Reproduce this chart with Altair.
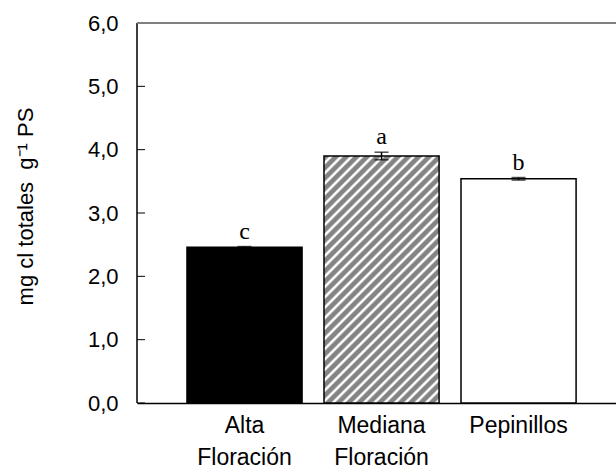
import altair as alt
import pandas as pd

categories = ["Alta\nFloración", "Mediana\nFloración", "Pepinillos"]
values = [2.46, 3.90, 3.54]
errors = [0.01, 0.06, 0.02]
letters = ["c", "a", "b"]
y_ticks = [0, 1, 2, 3, 4, 5, 6]

df = pd.DataFrame({"cat": categories, "val": values, "err": errors, "let": letters})
df["lo"] = df["val"] - df["err"]
df["hi"] = df["val"] + df["err"]
ticks_df = pd.DataFrame({"t": y_ticks})

W, H = 479, 380
YMAX = 6.0
Y_TITLE = "mg cl totales\u00a0\u00a0g⁻¹ PS"

x_scale = alt.Scale(domain=categories, paddingInner=0.16, paddingOuter=0.328, align=0.556)
y_scale = alt.Scale(domain=[0, YMAX], nice=False, zero=True)

x_axis = alt.Axis(orient="bottom", labelExpr="split(datum.label, '\\n')", labelAngle=0,
                  ticks=False, labelPadding=11, labelFontSize=23,
                  labelFont="Liberation Sans", labelColor="black",
                  labelLineHeight=32, labelBaseline="top",
                  domainColor="black", domainWidth=1.5)
y_axis = alt.Axis(orient="left", values=y_ticks, ticks=False, labelPadding=19, domain=False,
                  labelExpr="replace(format(datum.value, '.1f'), '.', ',')",
                  labelFontSize=22, labelFont="Liberation Sans", labelColor="black",
                  grid=False,
                  titleFontSize=22, titleFont="Liberation Sans", titleFontWeight="normal",
                  titleColor="black", titleX=-100, titleY=183,
                  titleAngle=-90, titleAlign="center", titleBaseline="bottom")

def xc():
    return alt.X("cat:N", scale=x_scale, sort=categories, title=None, axis=x_axis)

def yc(field, **kw):
    return alt.Y(field, scale=y_scale, title=Y_TITLE, axis=y_axis, **kw)

# stripe gradient for the hatched bar
bw = W / (3 - 0.16 + 2 * 0.328) * 0.84
bh = values[1] / YMAX * H
r = bh / bw
a = (1 + r) / (1 + r * r)
N = int(round((bw + bh) / 10.3))
stops = []
for i in range(N):
    b0 = i / N
    d = 1 / N
    stops += [
        {"offset": b0, "color": "#848484"},
        {"offset": b0 + 0.45 * d, "color": "#848484"},
        {"offset": b0 + 0.65 * d, "color": "#ffffff"},
        {"offset": b0 + 0.80 * d, "color": "#ffffff"},
        {"offset": min(1.0, b0 + 0.999 * d), "color": "#848484"},
    ]
stripe = {"gradient": "linear", "x1": 0, "y1": 0, "x2": a, "y2": a * r, "stops": stops}

base = alt.Chart(df)

bars_solid = base.transform_filter(alt.datum.cat != categories[1]).mark_bar(
    stroke="black", strokeWidth=1.5
).encode(
    x=xc(), y=yc("val:Q"),
    fill=alt.Fill("cat:N", scale=alt.Scale(domain=[categories[0], categories[2]],
                                           range=["black", "white"]), legend=None),
)
bars_hatch = base.transform_filter(alt.datum.cat == categories[1]).mark_bar(
    stroke="black", strokeWidth=1.5, fill=stripe
).encode(x=xc(), y=yc("val:Q"))

whisk = base.mark_rule(color="black", strokeWidth=1.5).encode(
    x=xc(), y=yc("lo:Q"), y2="hi:Q")
cap_lo = base.mark_tick(color="black", thickness=1.5, size=14, orient="horizontal").encode(
    x=xc(), y=yc("lo:Q"))
cap_hi = base.mark_tick(color="black", thickness=1.5, size=14, orient="horizontal").encode(
    x=xc(), y=yc("hi:Q"))
labels = base.mark_text(font="Liberation Serif", fontSize=24, baseline="bottom",
                        dy=-3, color="black").encode(
    x=xc(), y=yc("hi:Q"), text="let:N")

inner_ticks = alt.Chart(ticks_df).mark_rule(color="black", strokeWidth=1).encode(
    y=yc("t:Q"), x=alt.value(0), x2=alt.value(8))
left_line = alt.Chart(ticks_df).mark_rule(color="black", strokeWidth=1.5).encode(
    y=yc("min(t):Q"), y2="max(t):Q", x=alt.value(0))
top_line = alt.Chart(ticks_df).transform_filter(alt.datum.t == YMAX).mark_rule(
    color="#808080", strokeWidth=2).encode(y=yc("t:Q"))

chart = alt.layer(bars_solid, bars_hatch, whisk, cap_lo, cap_hi, labels,
                  inner_ticks, left_line, top_line).properties(
    width=W, height=H,
    autosize=alt.AutoSizeParams(type="none"),
    padding={"left": 137, "top": 23, "right": 0, "bottom": 67},
    background="white",
).configure_view(stroke="transparent", strokeWidth=0)

chart.save("out.html", embed_options={"renderer": "svg", "actions": False})
